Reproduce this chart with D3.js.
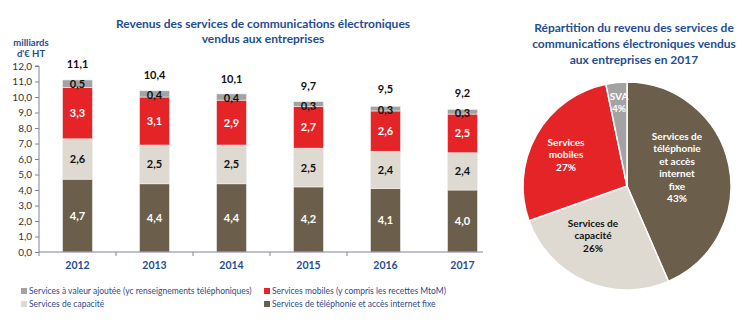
<!DOCTYPE html>
<html><head><meta charset="utf-8">
<script src="https://cdn.jsdelivr.net/npm/d3@7"></script>
<style>
body{margin:0;background:#fff;}
svg text{font-family:Lato,"Open Sans",sans-serif;}
</style></head>
<body><svg id="c" width="750" height="328"></svg>
<script>
const years = ["2012","2013","2014","2015","2016","2017"];
const fixe = [4.7,4.4,4.4,4.2,4.1,4.0];
const capacite = [2.6,2.5,2.5,2.5,2.4,2.4];
const mobiles = [3.3,3.1,2.9,2.7,2.6,2.5];
const sva = [0.5,0.4,0.4,0.3,0.3,0.3];
const totals = [11.1,10.4,10.1,9.7,9.5,9.2];
const yTicks = [0,1,2,3,4,5,6,7,8,9,10,11,12];
const seriesNames = ["Services de téléphonie et accès internet fixe","Services de capacité","Services mobiles (y compris les recettes MtoM)","Services à valeur ajoutée (yc renseignements téléphoniques)"];
const seriesColors = ["#6B5F4C","#DEDAD1","#E52427","#A3A3A3"];
const labelColors = ["#fff","#111","#fff","#111"];
const pieLabels = [["Services de","téléphonie","et accès","internet","fixe","43%"],["Services de","capacité","26%"],["Services","mobiles","27%"],["SVA","4%"]];
const pieValues = [4.0,2.4,2.5,0.3];

const svg = d3.select("#c");
const fmt = v => d3.format(".1f")(v).replace(".", ",");
const blue = "#1F4E91";

// Bar chart
const x = d3.scaleBand().domain(years).range([39,501]).paddingInner(0.61).paddingOuter(0.305);
const y = d3.scaleLinear().domain([0,12]).range([252,66]);
const seriesData = [fixe,capacite,mobiles,sva];
const rows = years.map((yr,i)=>({year:yr,s0:fixe[i],s1:capacite[i],s2:mobiles[i],s3:sva[i]}));
const stack = d3.stack().keys(["s0","s1","s2","s3"])(rows);

const g = svg.append("g");
stack.forEach((layer,k)=>{
  const lg = g.append("g");
  lg.selectAll("rect").data(layer).join("rect")
    .attr("x",d=>x(d.data.year)).attr("width",x.bandwidth())
    .attr("y",d=>y(d[1])).attr("height",d=>y(d[0])-y(d[1]))
    .attr("fill",seriesColors[k]).attr("stroke","#f2f2f2").attr("stroke-width",0.6);
  lg.selectAll("text").data(layer).join("text")
    .attr("x",d=>x(d.data.year)+x.bandwidth()/2)
    .attr("y",d=> k===3 ? y(d[1])+8 : (y(d[0])+y(d[1]))/2+4)
    .attr("text-anchor","middle").attr("font-size",11).attr("font-weight","bold")
    .attr("fill",labelColors[k])
    .text((d,i)=>fmt(seriesData[k][i]));
});
// totals
g.selectAll(".tot").data(years).join("text")
  .attr("x",d=>x(d)+x.bandwidth()/2).attr("y",(d,i)=>y(totals[i])-12)
  .attr("text-anchor","middle").attr("font-size",11).attr("font-weight","bold").attr("fill","#111")
  .text((d,i)=>fmt(totals[i]));

// y axis
const yAxis = d3.axisLeft(y).tickValues(yTicks).tickFormat(fmt).tickSize(4).tickPadding(3);
const ya = svg.append("g").attr("transform","translate(39,0)").call(yAxis);
ya.selectAll("text").attr("font-size",10).attr("fill","#333");
ya.selectAll("line").attr("stroke","#8080A8");
ya.select(".domain").attr("stroke","#8080A8").attr("d","M-4,66H0V252");

// x axis
const xa = svg.append("g").attr("transform","translate(0,252)");
xa.append("line").attr("x1",39).attr("x2",483).attr("y1",0).attr("y2",0).attr("stroke","#8080A8");
xa.selectAll(".tk").data(years.slice(0,5)).join("line")
  .attr("x1",d=>x(d)-x.step()*x.paddingOuter()).attr("x2",d=>x(d)-x.step()*x.paddingOuter())
  .attr("y1",0).attr("y2",4).attr("stroke","#8080A8");
xa.selectAll("text").data(years).join("text")
  .attr("x",d=>x(d)+x.bandwidth()/2).attr("y",17)
  .attr("text-anchor","middle").attr("font-size",10.5).attr("font-weight","bold").attr("fill",blue)
  .text(d=>d);

// unit
svg.append("text").attr("x",31).attr("y",46).attr("text-anchor","middle").attr("font-size",9.5).attr("font-weight","bold").attr("fill",blue).text("milliards");
svg.append("text").attr("x",31).attr("y",57).attr("text-anchor","middle").attr("font-size",9.5).attr("font-weight","bold").attr("fill",blue).text("d'€ HT");

// title
const t1 = svg.append("text").attr("x",263).attr("text-anchor","middle").attr("font-size",12).attr("font-weight","bold").attr("fill",blue);
t1.append("tspan").attr("x",263).attr("y",28).text("Revenus des services de communications électroniques");
t1.append("tspan").attr("x",263).attr("y",43).text("vendus aux entreprises");

// legend
const legOrder = [3,2,1,0];
const legPos = [[21,294],[264,294],[21,307],[264,307]];
legOrder.forEach((k,i)=>{
  const [lx,ly]=legPos[i];
  svg.append("rect").attr("x",lx).attr("y",ly-6).attr("width",6).attr("height",6).attr("fill",seriesColors[k]);
  svg.append("text").attr("x",lx+8).attr("y",ly).attr("font-size",8.5).attr("fill","#2F4A8C").text(seriesNames[k]);
});

// Pie
const cx=627, cy=186, r=104;
const pie = d3.pie().sort(null).value(d=>d)(pieValues);
const arc = d3.arc().innerRadius(0).outerRadius(r);
const pg = svg.append("g").attr("transform",`translate(${cx},${cy})`);
pg.selectAll("path").data(pie).join("path").attr("d",arc)
  .attr("fill",(d,i)=>seriesColors[i]).attr("stroke","#fff").attr("stroke-width",1.5);
const pieLabelPos = [[50,-46],[-34,41],[-61,-40],[-8,-86]];
const pieLabelColors = ["#fff","#111","#fff","#fff"];
const lineH = [12.4,12.4,12.4,12];
pieLabels.forEach((lines,i)=>{
  const t = pg.append("text").attr("text-anchor","middle").attr("font-size",10).attr("font-weight","bold").attr("fill",pieLabelColors[i]);
  lines.forEach((ln,j)=>t.append("tspan").attr("x",pieLabelPos[i][0]).attr("y",pieLabelPos[i][1]+j*lineH[i]).text(ln));
});

// pie title
const pt = svg.append("text").attr("text-anchor","middle").attr("font-size",12).attr("font-weight","bold").attr("fill",blue);
["Répartition du revenu des services de","communications électroniques vendus","aux entreprises en 2017"].forEach((ln,j)=>
  pt.append("tspan").attr("x",634).attr("y",32+j*16).text(ln));
</script></body></html>
